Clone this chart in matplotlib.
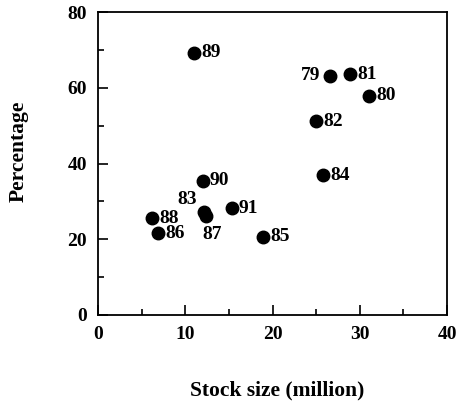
import matplotlib
matplotlib.use("Agg")
import matplotlib.pyplot as plt
from matplotlib.ticker import MultipleLocator

years = ["79", "80", "81", "82", "83", "84", "85", "86", "87", "88", "89", "90", "91"]
stock = [26.6, 31.1, 28.9, 25.0, 12.1, 25.8, 18.9, 6.9, 12.4, 6.2, 11.0, 12.0, 15.3]
percentage = [63.2, 57.9, 63.6, 51.1, 27.3, 36.9, 20.7, 21.6, 26.2, 25.5, 69.2, 35.4, 28.2]

# label offsets in pixels (dx, dy, ha)
offsets = {"79": (-10, 0, "right"), "83": (-16, 12, "center"), "87": (6, -19, "center")}

plt.rcParams['font.family'] = ['Liberation Serif', 'DejaVu Serif']
plt.rcParams['font.weight'] = 'bold'

fig = plt.figure(figsize=(4.58, 4.01), dpi=100)
ax = fig.add_axes([0.214, 0.2145, 0.762, 0.7555])
ax.plot(stock, percentage, 'o', color='black', markersize=9, linestyle='none')
for y, sx, p in zip(years, stock, percentage):
    dx, dy, ha = offsets.get(y, (7, 0, "left"))
    ax.annotate(y, (sx, p), xytext=(dx, dy), textcoords='offset pixels',
                ha=ha, va='center', fontsize=14, fontweight='bold')

ax.set_xlim(0, 40)
ax.set_ylim(0, 80)
ax.xaxis.set_major_locator(MultipleLocator(10))
ax.xaxis.set_minor_locator(MultipleLocator(5))
ax.yaxis.set_major_locator(MultipleLocator(20))
ax.yaxis.set_minor_locator(MultipleLocator(10))
ax.tick_params(which='both', direction='in', top=False, right=False, labelsize=14, width=1.2)
ax.tick_params(which='major', length=7, pad=8)
ax.tick_params(which='minor', length=4)
for s in ax.spines.values():
    s.set_linewidth(1.3)
for lab in ax.get_xticklabels() + ax.get_yticklabels():
    lab.set_fontweight('bold')
ax.set_xlabel("Stock size (million)", fontsize=15.5, fontweight='bold')
ax.set_ylabel("Percentage", fontsize=15.5, fontweight='bold')
ax.xaxis.set_label_coords(0.513, -0.215)
ax.yaxis.set_label_coords(-0.20, 0.54)
fig.savefig("out.png", dpi=100)
